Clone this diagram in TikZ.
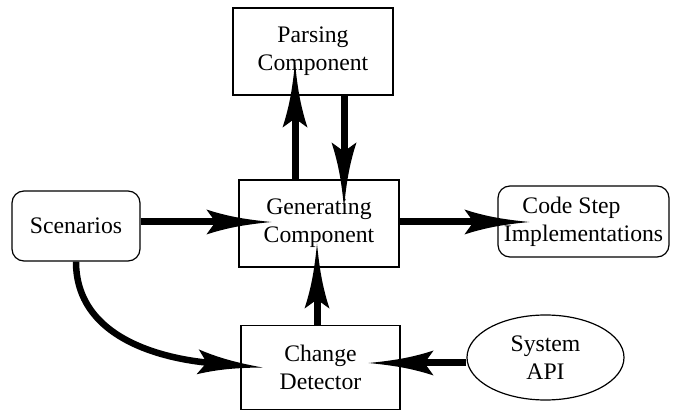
\documentclass[tikz,border=0pt]{standalone}
\usepackage{fontspec}
\setmainfont{Liberation Serif}
\usetikzlibrary{arrows.meta,shapes.geometric,calc}

% Long tapered arrow head with swept-back barbs
\pgfdeclarearrow{
  name = Taper,
  parameters = {\the\pgfarrowlength,\the\pgfarrowwidth},
  setup code = {
    \pgfarrowssettipend{0pt}
    \pgfarrowssetbackend{-\pgfarrowlength}
    \pgfarrowssetlineend{-0.8\pgfarrowlength}
    \pgfarrowssavethe\pgfarrowlength
    \pgfarrowssavethe\pgfarrowwidth
  },
  drawing code = {
    \pgfpathmoveto{\pgfpointorigin}
    \pgfpathcurveto{\pgfqpoint{-0.35\pgfarrowlength}{0.09\pgfarrowwidth}}
                   {\pgfqpoint{-0.65\pgfarrowlength}{0.2\pgfarrowwidth}}
                   {\pgfqpoint{-\pgfarrowlength}{0.5\pgfarrowwidth}}
    \pgfpathlineto{\pgfqpoint{-0.86\pgfarrowlength}{0pt}}
    \pgfpathlineto{\pgfqpoint{-\pgfarrowlength}{-0.5\pgfarrowwidth}}
    \pgfpathcurveto{\pgfqpoint{-0.65\pgfarrowlength}{-0.2\pgfarrowwidth}}
                   {\pgfqpoint{-0.35\pgfarrowlength}{-0.09\pgfarrowwidth}}
                   {\pgfpointorigin}
    \pgfpathclose
    \pgfusepathqfill
  },
  defaults = {length = 65pt, width = 25pt}
}

\tikzset{
  txt/.style={font=\fontsize{23.7}{28}\selectfont, align=center, inner sep=0pt},
  box/.style={txt, draw, line width=1.2pt, rectangle},
  rbox/.style={box, rounded corners=12pt},
  oval/.style={txt, draw, line width=1.2pt, ellipse},
  arr/.style={line width=7pt, -{Taper}},
}

\begin{document}
\begin{tikzpicture}[x=1pt,y=-1pt]
  \useasboundingbox (0,0) rectangle (680,411);

  % components
  \node[box, minimum width=160pt, minimum height=87pt] (parse) at (313,51.5) {Parsing\\Component};
  \node[box, minimum width=160pt, minimum height=87pt] (gen) at (319,223.5) {Generating\\Component};
  \node[box, minimum width=159pt, minimum height=84pt] (change) at (320.5,367.5) {Change\\Detector};
  \node[rbox, minimum width=128pt, minimum height=70pt] (scen) at (76,226) {Scenarios};
  \node[rbox, minimum width=171pt, minimum height=71pt] (code) at (583.5,221.5) {Code Step\rule{24pt}{0pt}\\Implementations};
  \node[oval, minimum width=157pt, minimum height=85pt] (api) at (545.5,357.5) {System\\API};

  % data flow: the tips reach well inside the target boxes
  \draw[arr] ($(scen.east)+(0,-4)$) -- ($(scen.east -| gen.west)+(33,-4)$);
  \draw[arr] ($(gen.east)+(0,-1.5)$) -- ($(gen.east -| code.west)+(32,-1.5)$);
  \draw[arr] ($(gen.north)+(-24,0)$) -- ($(gen.north |- parse.south)+(-24,-33)$);
  \draw[arr] ($(parse.south)+(31,0)$) -- ($(parse.south |- gen.north)+(31,28)$);
  \draw[arr] ($(change.north)+(-3.5,0)$) -- ($(change.north |- gen.south)+(-3.5,-24)$);
  \draw[arr] ($(api.west)+(0,5.5)$) -- ($(api.west -| change.east)+(-32,5.5)$);
  \draw[arr, line width=6.5pt] (scen.south) to[out=-90, in=175] ($(change.west)+(22,0)$);
\end{tikzpicture}
\end{document}
